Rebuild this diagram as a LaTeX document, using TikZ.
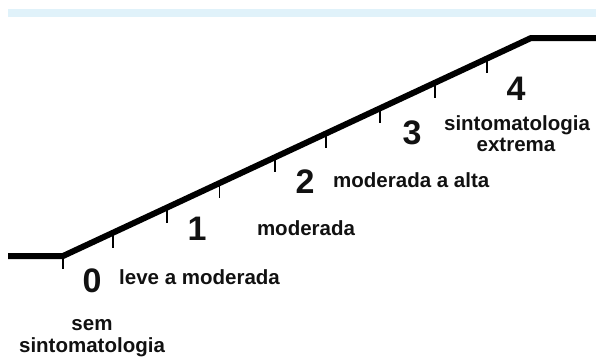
\documentclass[tikz,border=0pt]{standalone}
\usepackage{fontspec}
\setmainfont{Liberation Sans}
\usetikzlibrary{calc}
\definecolor{barblue}{HTML}{E0F2FA}
\definecolor{txt}{HTML}{111111}
\tikzset{
  ramp/.style={line width=6pt, line join=round, line cap=butt, black},
  tickmark/.style={line width=1.4pt, black},
  digit/.style={font=\bfseries\fontsize{34}{34}\selectfont, text=txt, inner sep=0pt},
  lbl/.style={font=\bfseries\fontsize{20.5}{21}\selectfont, text=txt, inner sep=0pt, align=center},
}
\begin{document}
\begin{tikzpicture}[x=1pt,y=-1pt]
\useasboundingbox (0,0) rectangle (596,357);
\fill[barblue] (8,9) rectangle (596,17);
\coordinate (A) at (8,256);
\coordinate (B) at (63,256);
\coordinate (C) at (531,38);
\coordinate (D) at (596,38);
\draw[ramp] (A) -- (B) -- (C) -- (D);
\draw[tickmark] (B) -- ++(0,13);
\foreach \t in {0.107,0.222,0.335,0.453,0.562,0.677,0.795,0.906}
  \draw[tickmark] ($(B)!\t!(C)$) -- ++(0,15);
% labels
\node[digit] (d0) at (92,281) {0};
\node[lbl, anchor=west] (l0) at (119,277) {leve a moderada};
\node[lbl] (s0) at (92,325) {sem};
\node[lbl] (s1) at (92,347) {sintomatologia};
\node[digit] (d1) at (197,229) {1};
\node[lbl] (l1) at (306,228) {moderada};
\node[digit] (d2) at (305,182) {2};
\node[lbl, anchor=west] (l2) at (333,180) {moderada a alta};
\node[digit] (d3) at (412,133) {3};
\node[digit] (d4) at (516,89) {4};
\node[lbl] (l4a) at (517,125) {sintomatologia};
\node[lbl] (l4b) at (516,145) {extrema};
\end{tikzpicture}
\end{document}
